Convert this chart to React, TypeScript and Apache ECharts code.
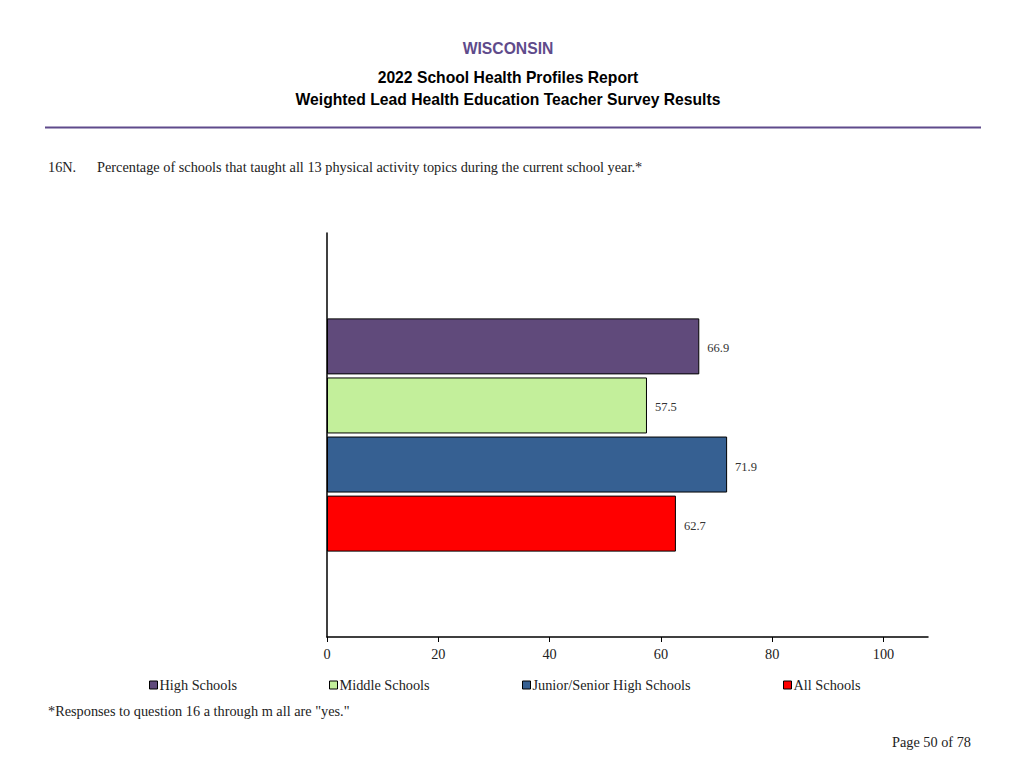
import React, { useEffect, useRef } from "react";
import * as echarts from "echarts";

const categories = ["16N"];
const seriesNames = ["High Schools", "Middle Schools", "Junior/Senior High Schools", "All Schools"];
const seriesValues = [66.9, 57.5, 71.9, 62.7];
const seriesColors = ["#604a7b", "#c3ef9b", "#366092", "#ff0000"];
const tickLabels = [0, 20, 40, 60, 80, 100];
const legendLefts = [149, 329, 522, 783];

const SERIF = "'Liberation Serif', 'Times New Roman', serif";
const SANS = "'Liberation Sans', Arial, sans-serif";

export default function App() {
  const ref = useRef<HTMLDivElement>(null);
  useEffect(() => {
    if (!ref.current) return;
    const chart = echarts.init(ref.current, undefined, { renderer: "svg" });
    const series = seriesNames.map((name, i) => ({
      name,
      type: "bar",
      data: [seriesValues[i]],
      barWidth: 56,
      barGap: "5.5%",
      itemStyle: { color: seriesColors[i], borderColor: "#000", borderWidth: 1 },
      label: {
        show: true,
        position: "right",
        distance: 8,
        offset: [0, 2],
        fontFamily: SERIF,
        fontSize: 12.5,
        color: "#333",
        formatter: (p: any) => p.value.toFixed(1),
      },
    }));
    chart.setOption({
      animation: false,
      backgroundColor: "#fff",
      grid: { left: 327, right: 96, top: 233, bottom: 131, containLabel: false },
      xAxis: {
        type: "value",
        min: 0,
        max: 108,
        interval: 20,
        axisLine: { show: true, lineStyle: { color: "#000", width: 1.5 } },
        axisTick: { show: true, length: 5, lineStyle: { color: "#000" } },
        splitLine: { show: false },
        axisLabel: {
          fontFamily: SERIF,
          fontSize: 14.3,
          color: "#222",
          margin: 10,
          showMaxLabel: false,
          formatter: (v: number) => (tickLabels.includes(v) ? String(v) : ""),
        },
      },
      yAxis: {
        type: "category",
        data: categories,
        inverse: true,
        axisLine: { show: true, lineStyle: { color: "#000", width: 1.5 } },
        axisTick: { show: false },
        axisLabel: { show: false },
      },
      legend: seriesNames.map((name, i) => ({
        data: [name],
        left: legendLefts[i],
        top: 678,
        icon: "rect",
        itemWidth: 8,
        itemHeight: 8,
        itemGap: 2,
        padding: 0,
        selectedMode: false,
        itemStyle: { borderColor: "#000", borderWidth: 1 },
        textStyle: { fontFamily: SERIF, fontSize: 14.3, color: "#222", padding: [0, 0, 0, -3] },
      })),
      series,
      graphic: [
        {
          type: "text",
          x: 508,
          y: 40,
          style: { text: "WISCONSIN", font: `bold 15.7px ${SANS}`, fill: "#5f4b8b", textAlign: "center" },
        },
        {
          type: "text",
          x: 508,
          y: 69,
          style: { text: "2022 School Health Profiles Report", font: `bold 15.7px ${SANS}`, fill: "#000", textAlign: "center" },
        },
        {
          type: "text",
          x: 508,
          y: 91,
          style: {
            text: "Weighted Lead Health Education Teacher Survey Results",
            font: `bold 15.7px ${SANS}`,
            fill: "#000",
            textAlign: "center",
          },
        },
        {
          type: "line",
          shape: { x1: 45, y1: 127.5, x2: 981, y2: 127.5 },
          style: { stroke: "#5f4b8b", lineWidth: 2 },
        },
        {
          type: "text",
          left: 48,
          top: 160,
          style: { text: "16N.", font: `14.3px ${SERIF}`, fill: "#222" },
        },
        {
          type: "text",
          left: 97,
          top: 160,
          style: {
            text: "Percentage of schools that taught all 13 physical activity topics during the current school year.*",
            font: `14.3px ${SERIF}`,
            fill: "#222",
          },
        },
        {
          type: "text",
          left: 48,
          top: 704,
          style: { text: '*Responses to question 16 a through m all are "yes."', font: `14.3px ${SERIF}`, fill: "#222" },
        },
        {
          type: "text",
          right: 53,
          top: 735,
          style: { text: "Page 50 of 78", font: `14.3px ${SERIF}`, fill: "#222" },
        },
      ],
    });
    return () => chart.dispose();
  }, []);
  return (
    <div
      ref={ref}
      style={{ position: "absolute", left: 0, top: 0, width: 1024, height: 768 }}
    />
  );
}
